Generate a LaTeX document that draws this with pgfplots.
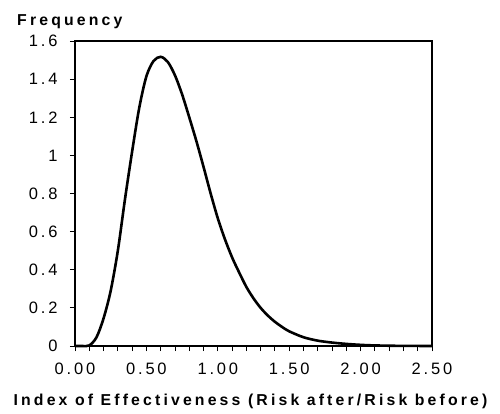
\documentclass[border=0pt]{standalone}
\usepackage{pgfplots}
\pgfplotsset{compat=1.18}
\usepackage{fontspec}
\setmainfont{Liberation Sans}
\newfontfamily\tickfont[LetterSpace=17]{Liberation Sans}
\newfontfamily\labfont[LetterSpace=20]{Liberation Sans}

\begin{document}
\begin{tikzpicture}
\begin{axis}[
    name=ax,
    scale only axis,
    width=357pt,
    height=305pt,
    xmin=0, xmax=2.5,
    ymin=0, ymax=1.6,
    axis line style={line width=2.4pt},
    tick pos=left,
    tick align=outside,
    major tick length=5pt,
    minor tick length=5pt,
    tick style={line width=0.9pt, black},
    xtick={0,0.5,...,2.5},
    minor xtick={0,0.1,...,2.5},
    ytick={0,0.2,...,1.6},
    xticklabel style={/pgf/number format/fixed,
        /pgf/number format/fixed zerofill,
        /pgf/number format/precision=2, yshift=-8pt},
    yticklabel style={xshift=-9pt},
    /pgf/number format/assume math mode=true,
    ticklabel style={font=\tickfont\fontsize{16.5}{18}\selectfont},
    xlabel={Index of Effectiveness (Risk after/Risk before)},
    xlabel style={font=\labfont\bfseries\fontsize{15.8}{18}\selectfont,
        at={(axis description cs:0.5,0)}, anchor=base, yshift=-59pt, xshift=-3pt},
    clip=false,
]
\addplot[line width=2.6pt, black, smooth] coordinates {
(0.00,0) (0.05,0) (0.10,0.003) (0.15,0.045) (0.20,0.145) (0.25,0.29)
(0.30,0.50) (0.35,0.77) (0.40,1.02) (0.45,1.25) (0.50,1.415) (0.55,1.495)
(0.60,1.517) (0.65,1.49) (0.70,1.42) (0.75,1.32) (0.80,1.20) (0.85,1.075)
(0.90,0.94) (0.95,0.80) (1.00,0.67) (1.05,0.56) (1.10,0.465) (1.15,0.385)
(1.20,0.31) (1.25,0.25) (1.30,0.20) (1.35,0.16) (1.40,0.127) (1.45,0.10)
(1.50,0.077) (1.60,0.046) (1.70,0.028) (1.80,0.018) (1.90,0.011)
(2.00,0.006) (2.10,0.003) (2.25,0.001) (2.50,0)
};
\node[font=\labfont\bfseries\fontsize{15.8}{18}\selectfont, anchor=base west,
      inner sep=0pt] at ([xshift=-58pt,yshift=15pt]rel axis cs:0,1) {Frequency};
\end{axis}
\path (ax.south west) ++(-75pt,-67pt) rectangle ++(500pt,413pt);
\end{tikzpicture}
\end{document}
